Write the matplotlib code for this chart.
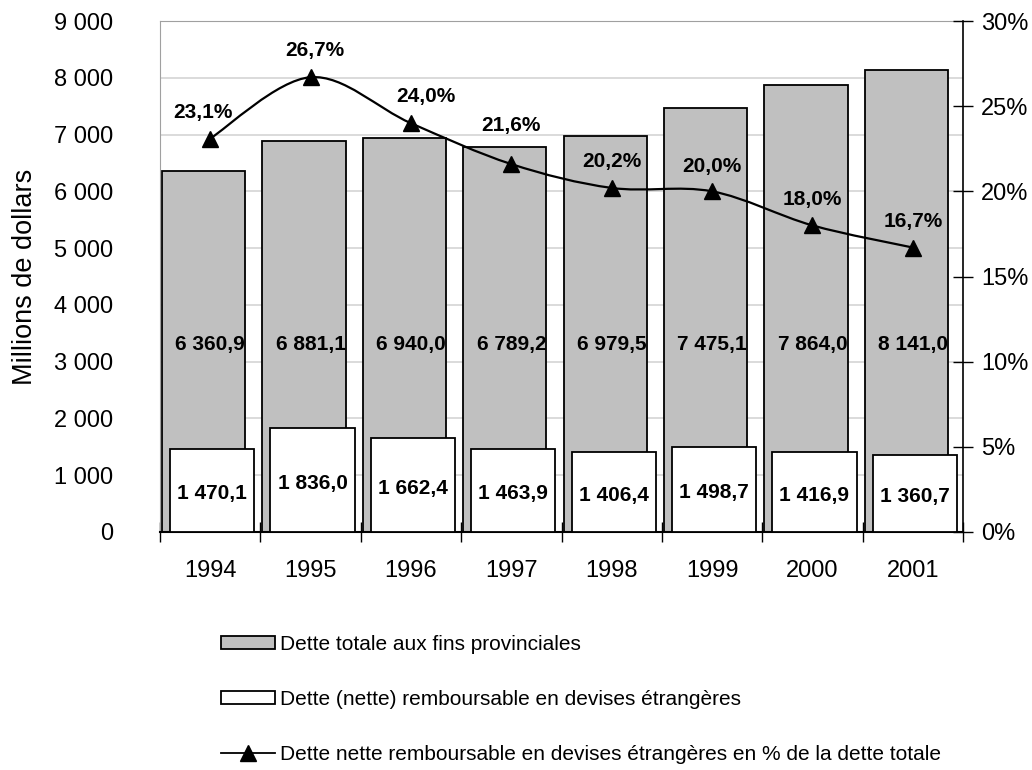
"""Dette totale vs dette remboursable en devises étrangères, 1994-2001."""
import matplotlib
matplotlib.use("Agg")
import matplotlib.pyplot as plt
import numpy as np
from matplotlib.lines import Line2D
from matplotlib.patches import Patch, PathPatch
from matplotlib.path import Path

plt.rcParams["font.family"] = ["Liberation Sans", "DejaVu Sans"]

years = ["1994", "1995", "1996", "1997", "1998", "1999", "2000", "2001"]
total_debt = [6360.9, 6881.1, 6940.0, 6789.2, 6979.5, 7475.1, 7864.0, 8141.0]
foreign_debt = [1470.1, 1836.0, 1662.4, 1463.9, 1406.4, 1498.7, 1416.9, 1360.7]
foreign_pct = [23.1, 26.7, 24.0, 21.6, 20.2, 20.0, 18.0, 16.7]

left_ticks = [0, 1000, 2000, 3000, 4000, 5000, 6000, 7000, 8000, 9000]
right_ticks = [0, 5, 10, 15, 20, 25, 30]

legend_labels = [
    "Dette totale aux fins provinciales",
    "Dette (nette) remboursable en devises étrangères",
    "Dette nette remboursable en devises étrangères en % de la dette totale",
]

GREY = "#C0C0C0"


def fr_num(v, dec):
    s = f"{v:,.{dec}f}"
    return s.replace(",", " ").replace(".", ",")


def smooth_path(xs, ys):
    # Excel-style smoothed line: cubic Bezier through every point
    pts = np.column_stack([xs, ys]).astype(float)
    verts = [pts[0]]
    codes = [Path.MOVETO]
    n = len(pts)
    for i in range(n - 1):
        p0 = pts[max(i - 1, 0)]
        p1 = pts[i]
        p2 = pts[i + 1]
        p3 = pts[min(i + 2, n - 1)]
        c1 = p1 + (p2 - p0) / 6.0
        c2 = p2 - (p3 - p1) / 6.0
        verts += [c1, c2, p2]
        codes += [Path.CURVE4] * 3
    return Path(verts, codes)


fig = plt.figure(figsize=(10.32, 7.70), dpi=100)
ax = fig.add_axes([160 / 1032, 1 - 532 / 770, 803 / 1032, 511 / 770])

x = np.arange(len(years))
ax.bar(x - 0.065, total_debt, width=0.83, color=GREY, edgecolor="black",
       linewidth=1.3, zorder=2)
ax.bar(x + 0.02, foreign_debt, width=0.84, color="white", edgecolor="black",
       linewidth=1.3, zorder=3)

for xi, v in zip(x, total_debt):
    ax.text(xi, 3300, fr_num(v, 1), ha="center", va="center",
            fontsize=15, fontweight="bold", zorder=5)
for xi, v in zip(x, foreign_debt):
    ax.text(xi + 0.02, v / 2 - 60, fr_num(v, 1), ha="center", va="center",
            fontsize=15, fontweight="bold", zorder=5)

ax.set_xlim(-0.5, len(years) - 0.5)
ax.set_ylim(0, 9000)
ax.set_yticks(left_ticks)
ax.set_yticklabels([fr_num(t, 0) for t in left_ticks])
ax.tick_params(axis="y", length=0, pad=34, labelsize=17)
ax.set_xticks(np.arange(-0.5, len(years)), minor=False)
ax.set_xticklabels([])
ax.set_xticks(x, minor=True)
ax.set_xticklabels(years, minor=True)
ax.tick_params(axis="x", which="major", direction="inout", length=14, width=1)
ax.tick_params(axis="x", which="minor", length=0, pad=20, labelsize=17)
ax.set_ylabel("Millions de dollars", fontsize=19.5, labelpad=11)
ax.yaxis.grid(True, color="#D4D4D4", linewidth=1.2, zorder=0)
ax.set_axisbelow(True)
for side in ("left", "top"):
    ax.spines[side].set_color("#A0A0A0")
ax.spines["bottom"].set_linewidth(1.5)
ax.spines["right"].set_visible(False)

ax2 = ax.twinx()
ax2.set_ylim(0, 30)
ax2.set_yticks(right_ticks)
ax2.set_yticklabels([f"{t}%" for t in right_ticks])
ax2.tick_params(axis="y", direction="inout", length=14, width=1, pad=6,
                labelsize=17)
ax2.spines["right"].set_linewidth(1.2)
for side in ("left", "top", "bottom"):
    ax2.spines[side].set_visible(False)

ax2.add_patch(PathPatch(smooth_path(x, foreign_pct), facecolor="none",
                        edgecolor="black", linewidth=1.6, zorder=4))
ax2.plot(x, foreign_pct, linestyle="none", marker="^", markersize=11,
         color="black", zorder=5)

nudges = [(-5, 0), (3, 0), (11, 0), (0, -9), (0, 0), (0, 1), (0, 0), (0, 0)]
for xi, v, (dx, dy) in zip(x, foreign_pct, nudges):
    ax2.annotate(fr_num(v, 1) + "%", (xi, v), xytext=(dx, 19 - dy),
                 textcoords="offset points", ha="center", va="center",
                 fontsize=15, fontweight="bold")

handles = [
    Patch(facecolor=GREY, edgecolor="black", linewidth=1.3),
    Patch(facecolor="white", edgecolor="black", linewidth=1.3),
    Line2D([], [], color="black", linewidth=1.3, marker="^", markersize=11),
]
fig.legend(handles, legend_labels, loc="upper left",
           bbox_to_anchor=(221 / 1032, 1 - 635 / 770), frameon=False,
           fontsize=15, handlelength=2.6, handleheight=0.6,
           handletextpad=0.25, labelspacing=1.72, borderpad=0,
           borderaxespad=0)

fig.savefig("out.png", dpi=100)
